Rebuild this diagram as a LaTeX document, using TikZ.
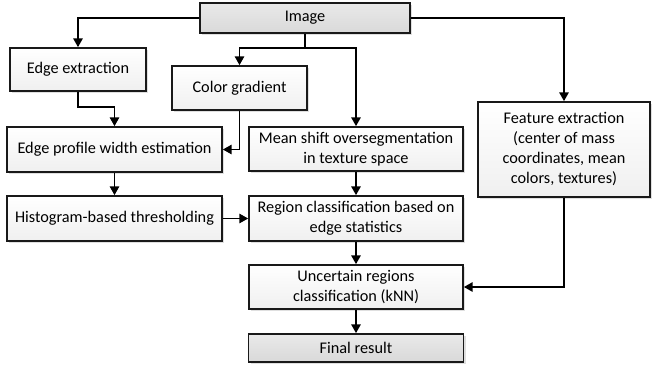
\documentclass[tikz,border=0pt]{standalone}
\usepackage{fontspec}
\setmainfont{Carlito}
\usetikzlibrary{arrows.meta,shadows}
\tikzset{
  box/.style={draw=black!90, line width=1.3pt, top color=white, bottom color=gray!12,
    drop shadow={shadow xshift=1.5pt, shadow yshift=-1.5pt, fill=gray!25, opacity=1},
    align=center, inner sep=2pt, font=\fontsize{12.2}{15}\selectfont},
  darkbox/.style={box, top color=gray!17, bottom color=gray!30},
  arr/.style={line width=1pt, -{Triangle[length=6.5pt,width=7pt]}},
  line/.style={line width=1pt}
}

\begin{document}
\begin{tikzpicture}[x=0.75pt, y=-0.75pt]
\useasboundingbox (0,0) rectangle (652,364);

% boxes
\node[darkbox, minimum width=157.5pt, minimum height=22.5pt] (img) at (305,18) {Image};
\node[box, minimum width=102pt, minimum height=32.25pt] (edge) at (78,69.5) {Edge extraction};
\node[box, minimum width=101.25pt, minimum height=33pt] (grad) at (239.5,88) {Color gradient};
\node[box, minimum width=161.25pt, minimum height=33.75pt] (profile) at (114.5,149.5) {Edge profile width estimation};
\node[box, minimum width=160.5pt, minimum height=33pt] (shift) at (356,149) {Mean shift oversegmentation\\in texture space};
\node[box, minimum width=129pt, minimum height=71.25pt] (feat) at (564,149.5) {Feature extraction\\(center of mass\\coordinates, mean\\colors, textures)};
\node[box, minimum width=161.25pt, minimum height=33.75pt] (hist) at (114.5,218.5) {Histogram-based thresholding};
\node[box, minimum width=160.5pt, minimum height=33.75pt] (region) at (356,218.5) {Region classification based on\\edge statistics};
\node[box, minimum width=160.5pt, minimum height=33pt] (uncert) at (356,287) {Uncertain regions\\classification (kNN)};
\node[darkbox, minimum width=161.25pt, minimum height=21pt] (final) at (356,348) {Final result};

% connectors
\coordinate (split) at (305,48);
\draw[arr] (img.west) -| (edge.north);
\draw[arr] (img.east) -| (feat.north);
\draw[line] (img.south) -- (split);
\draw[arr] (split) -| (grad.north);
\draw[arr] (split) -| (shift.north);
\draw[arr] (edge.south) -- ++(0,15) -| (profile.north);
\draw[arr] (grad.south) |- (profile.east);
\draw[arr] (profile.south) -- (hist.north);
\draw[arr] (hist.east) -- (region.west);
\draw[arr] (shift.south) -- (region.north);
\draw[arr] (region.south) -- (uncert.north);
\draw[arr] (feat.south) |- (uncert.east);
\draw[arr] (uncert.south) -- (final.north);
\end{tikzpicture}
\end{document}
